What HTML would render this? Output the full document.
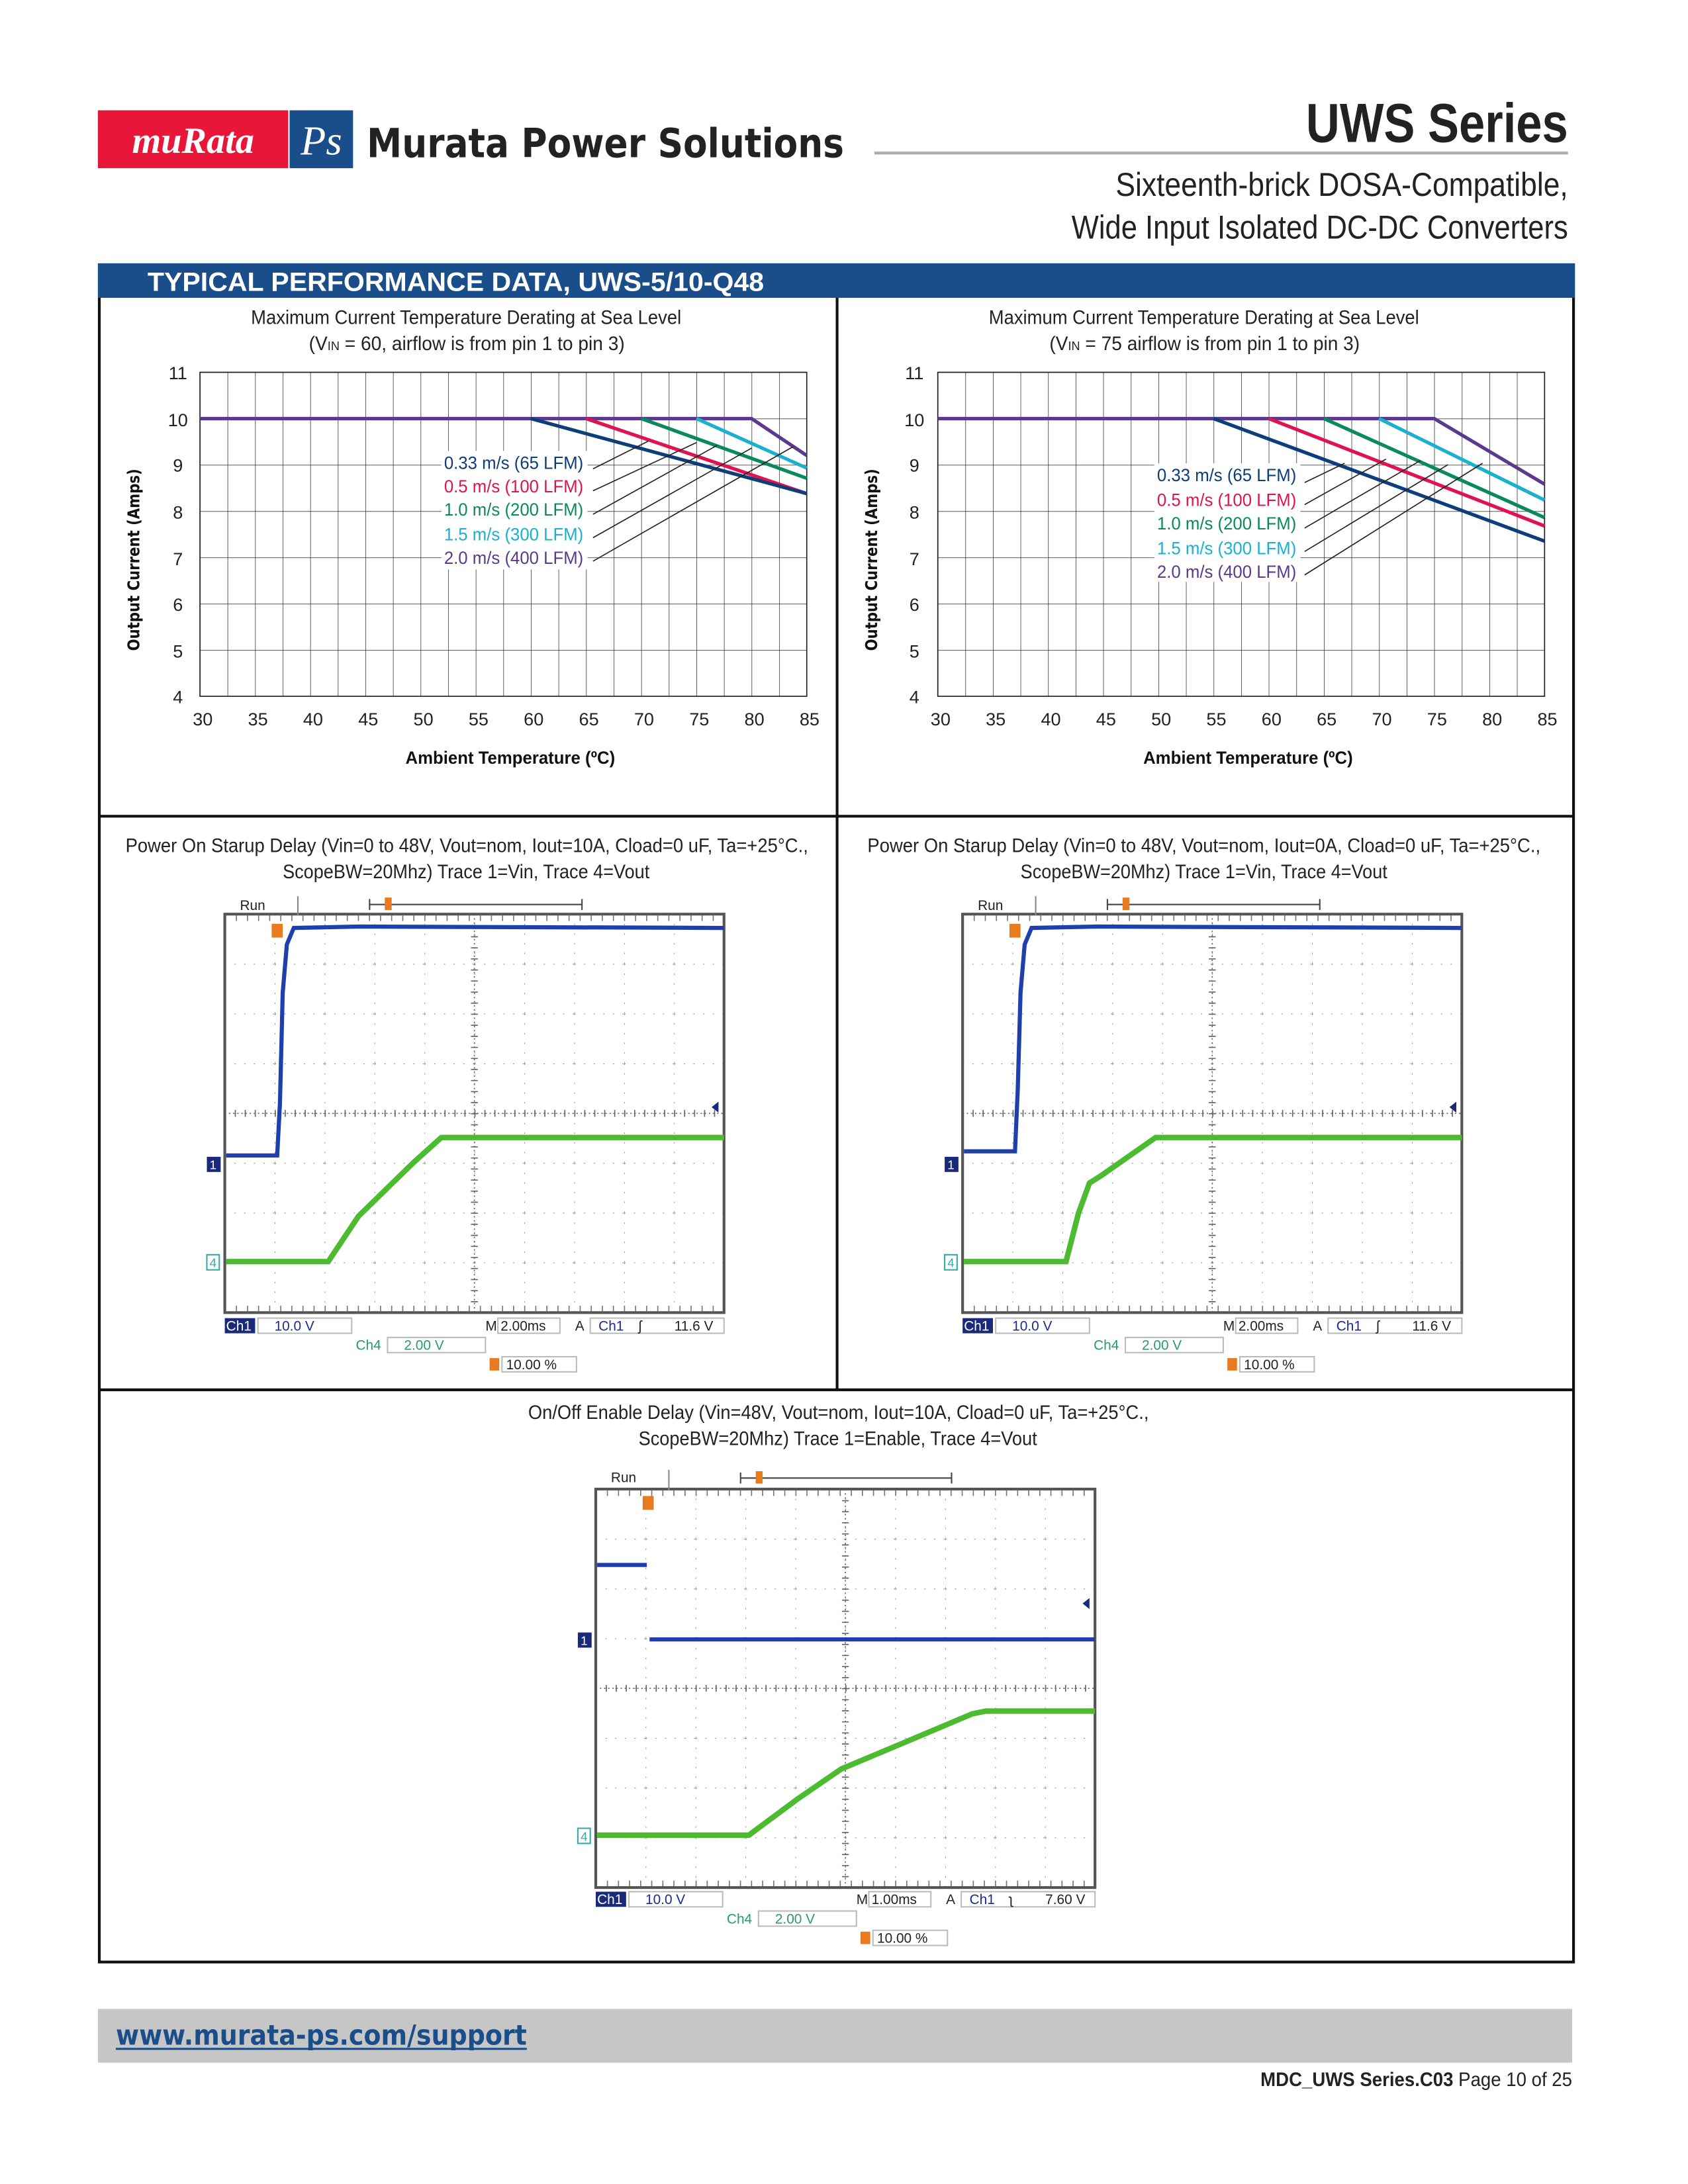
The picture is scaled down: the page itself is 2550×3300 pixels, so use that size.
<!DOCTYPE html>
<html><head><meta charset="utf-8"><style>
html,body{margin:0;padding:0;background:#fff;}
svg{display:block;}
text{font-family:"Liberation Sans Narrow","Liberation Sans",sans-serif;}
.m{font-family:"DejaVu Sans","Liberation Sans",sans-serif;}
</style></head><body>
<svg width="2550" height="3300" viewBox="0 0 1224 1584" xmlns="http://www.w3.org/2000/svg">
<defs>
<pattern id="grid" x="145" y="270" width="20" height="33.571" patternUnits="userSpaceOnUse">
<path d="M0 0V33.571M0 0H20" stroke="#222" stroke-width="0.7" fill="none"/>
</pattern>
<pattern id="grid2" x="680" y="270" width="20" height="33.571" patternUnits="userSpaceOnUse">
<path d="M0 0V33.571M0 0H20" stroke="#222" stroke-width="0.7" fill="none"/>
</pattern>
<pattern id="sdot" x="0" y="0" width="36.2" height="36.1" patternUnits="userSpaceOnUse">
<path d="M0 0V36.1M0 0H36.2" stroke="#777" stroke-width="0.8" stroke-dasharray="1,6" fill="none"/>
</pattern>
<g id="scope">
<rect x="0" y="0" width="362" height="289" fill="#fff"/>
<rect x="0" y="0" width="362" height="289" fill="url(#sdot)"/>
<line x1="181" y1="0" x2="181" y2="289" stroke="#666" stroke-width="0.8" stroke-dasharray="1,2"/>
<line x1="0" y1="144.5" x2="362" y2="144.5" stroke="#666" stroke-width="0.8" stroke-dasharray="1,2"/>
<path d="M0 144.5h362" stroke="#666" stroke-width="5" stroke-dasharray="0.8,6.44" fill="none"/>
<path d="M181 0v289" stroke="#666" stroke-width="5" stroke-dasharray="0.8,7.22" fill="none"/>
<path d="M0 3h362M0 286h362" stroke="#777" stroke-width="4" stroke-dasharray="0.8,7.24" fill="none"/>
<rect x="0" y="0" width="362" height="289" fill="none" stroke="#555" stroke-width="2"/>
</g>
</defs>

<!-- Header -->
<rect x="71" y="80" width="138" height="42" fill="#e8173a"/>
<text x="140" y="111" font-style="italic" font-weight="bold" font-size="27" fill="#fff" text-anchor="middle" style="font-family:'Liberation Serif',serif">muRata</text>
<rect x="210" y="80" width="46" height="42" fill="#1a4e8a"/>
<text x="233" y="112" font-size="30" font-style="italic" fill="#fff" text-anchor="middle" style="font-family:'Liberation Serif',serif">Ps</text>
<text x="266" y="114" font-size="29" font-weight="bold" fill="#222" style="font-family:'DejaVu Sans','Liberation Sans',sans-serif" textLength="346" lengthAdjust="spacingAndGlyphs">Murata Power Solutions</text>
<line x1="634" y1="111" x2="1137" y2="111" stroke="#aaa" stroke-width="2"/>
<text x="1137" y="103" font-size="40" font-weight="bold" fill="#222" text-anchor="end" textLength="190" lengthAdjust="spacingAndGlyphs">UWS Series</text>
<text x="1137" y="142" font-size="24" fill="#222" text-anchor="end" textLength="328" lengthAdjust="spacingAndGlyphs">Sixteenth-brick DOSA-Compatible,</text>
<text x="1137" y="173" font-size="24" fill="#222" text-anchor="end" textLength="360" lengthAdjust="spacingAndGlyphs">Wide Input Isolated DC-DC Converters</text>

<!-- Main box -->
<rect x="72" y="192" width="1069" height="1231" fill="none" stroke="#111" stroke-width="2"/>
<rect x="71" y="191" width="1071" height="25" fill="#1a4e8a"/>
<text x="107" y="211" font-size="19" font-weight="bold" fill="#fff" style="font-family:'Liberation Sans',sans-serif" textLength="447" lengthAdjust="spacingAndGlyphs">TYPICAL PERFORMANCE DATA, UWS-5/10-Q48</text>
<line x1="607" y1="216" x2="607" y2="1008" stroke="#111" stroke-width="2"/>
<line x1="72" y1="592" x2="1141" y2="592" stroke="#111" stroke-width="2"/>
<line x1="72" y1="1008" x2="1141" y2="1008" stroke="#111" stroke-width="2"/>

<!-- Chart 1 -->
<g font-size="14" fill="#222">
<text x="182" y="235" textLength="312" lengthAdjust="spacingAndGlyphs">Maximum Current Temperature Derating at Sea Level</text>
<text x="224" y="254" textLength="229" lengthAdjust="spacingAndGlyphs">(V<tspan font-size="9">IN</tspan> = 60, airflow is from pin 1 to pin 3)</text>
</g>
<rect x="145" y="270" width="440" height="235" fill="url(#grid)"/>
<rect x="145" y="270" width="440" height="235" fill="none" stroke="#222" stroke-width="0.8"/>
<g font-size="13" fill="#222" text-anchor="middle">
<text x="129" y="275">11</text><text x="129" y="309">10</text><text x="129" y="342">9</text><text x="129" y="376">8</text><text x="129" y="410">7</text><text x="129" y="443">6</text><text x="129" y="477">5</text><text x="129" y="510">4</text>
<text x="147" y="526">30</text><text x="187" y="526">35</text><text x="227" y="526">40</text><text x="267" y="526">45</text><text x="307" y="526">50</text><text x="347" y="526">55</text><text x="387" y="526">60</text><text x="427" y="526">65</text><text x="467" y="526">70</text><text x="507" y="526">75</text><text x="547" y="526">80</text><text x="587" y="526">85</text>
</g>
<text x="294" y="554" font-size="13" font-weight="bold" fill="#111" textLength="152" lengthAdjust="spacingAndGlyphs">Ambient Temperature (ºC)</text>
<text transform="translate(101,472) rotate(-90)" font-size="12" font-weight="bold" fill="#111" style="font-family:'DejaVu Sans',sans-serif" textLength="132" lengthAdjust="spacingAndGlyphs">Output Current (Amps)</text>
<g stroke-width="2.5" fill="none">
<polyline points="145,303.6 545,303.6 585,330.4" stroke="#5b3a8e"/>
<polyline points="505,303.6 585,339.5" stroke="#1ab0d0"/>
<polyline points="465,303.6 585,346.9" stroke="#0a8a5a"/>
<polyline points="425,303.6 585,358" stroke="#e0134f"/>
<polyline points="385,303.6 585,358" stroke="#0d3d7a"/>
</g>
<g stroke="#222" stroke-width="0.8">
<line x1="430" y1="340" x2="470" y2="320"/>
<line x1="430" y1="356" x2="505" y2="321"/>
<line x1="430" y1="373" x2="520" y2="323"/>
<line x1="430" y1="390" x2="545" y2="325"/>
<line x1="430" y1="407" x2="575" y2="324"/>
</g>
<rect x="320" y="327" width="106" height="86" fill="#fff"/>
<g font-size="13">
<text x="322" y="340" fill="#0d3d7a" textLength="101" lengthAdjust="spacingAndGlyphs">0.33 m/s (65 LFM)</text>
<text x="322" y="357" fill="#e0134f" textLength="101" lengthAdjust="spacingAndGlyphs">0.5 m/s (100 LFM)</text>
<text x="322" y="374" fill="#0a8a5a" textLength="101" lengthAdjust="spacingAndGlyphs">1.0 m/s (200 LFM)</text>
<text x="322" y="392" fill="#1ab0d0" textLength="101" lengthAdjust="spacingAndGlyphs">1.5 m/s (300 LFM)</text>
<text x="322" y="409" fill="#5b3a8e" textLength="101" lengthAdjust="spacingAndGlyphs">2.0 m/s (400 LFM)</text>
</g>

<!-- Chart 2 -->
<g font-size="14" fill="#222">
<text x="717" y="235" textLength="312" lengthAdjust="spacingAndGlyphs">Maximum Current Temperature Derating at Sea Level</text>
<text x="761" y="254" textLength="225" lengthAdjust="spacingAndGlyphs">(V<tspan font-size="9">IN</tspan> = 75 airflow is from pin 1 to pin 3)</text>
</g>
<rect x="680" y="270" width="440" height="235" fill="url(#grid2)"/>
<rect x="680" y="270" width="440" height="235" fill="none" stroke="#222" stroke-width="0.8"/>
<g font-size="13" fill="#222" text-anchor="middle">
<text x="663" y="275">11</text><text x="663" y="309">10</text><text x="663" y="342">9</text><text x="663" y="376">8</text><text x="663" y="410">7</text><text x="663" y="443">6</text><text x="663" y="477">5</text><text x="663" y="510">4</text>
<text x="682" y="526">30</text><text x="722" y="526">35</text><text x="762" y="526">40</text><text x="802" y="526">45</text><text x="842" y="526">50</text><text x="882" y="526">55</text><text x="922" y="526">60</text><text x="962" y="526">65</text><text x="1002" y="526">70</text><text x="1042" y="526">75</text><text x="1082" y="526">80</text><text x="1122" y="526">85</text>
</g>
<text x="829" y="554" font-size="13" font-weight="bold" fill="#111" textLength="152" lengthAdjust="spacingAndGlyphs">Ambient Temperature (ºC)</text>
<text transform="translate(636,472) rotate(-90)" font-size="12" font-weight="bold" fill="#111" style="font-family:'DejaVu Sans',sans-serif" textLength="132" lengthAdjust="spacingAndGlyphs">Output Current (Amps)</text>
<g stroke-width="2.5" fill="none">
<polyline points="680,303.6 1040,303.6 1120,351.2" stroke="#5b3a8e"/>
<polyline points="1000,303.6 1120,362.7" stroke="#1ab0d0"/>
<polyline points="960,303.6 1120,375.4" stroke="#0a8a5a"/>
<polyline points="920,303.6 1120,381.5" stroke="#e0134f"/>
<polyline points="880,303.6 1120,392.5" stroke="#0d3d7a"/>
</g>
<g stroke="#222" stroke-width="0.8">
<line x1="946" y1="350" x2="975" y2="336"/>
<line x1="946" y1="366" x2="1005" y2="333"/>
<line x1="946" y1="383" x2="1030" y2="334"/>
<line x1="946" y1="400" x2="1050" y2="337"/>
<line x1="946" y1="417" x2="1075" y2="336"/>
</g>
<rect x="837" y="336" width="106" height="86" fill="#fff"/>
<g font-size="13">
<text x="839" y="349" fill="#0d3d7a" textLength="101" lengthAdjust="spacingAndGlyphs">0.33 m/s (65 LFM)</text>
<text x="839" y="367" fill="#e0134f" textLength="101" lengthAdjust="spacingAndGlyphs">0.5 m/s (100 LFM)</text>
<text x="839" y="384" fill="#0a8a5a" textLength="101" lengthAdjust="spacingAndGlyphs">1.0 m/s (200 LFM)</text>
<text x="839" y="402" fill="#1ab0d0" textLength="101" lengthAdjust="spacingAndGlyphs">1.5 m/s (300 LFM)</text>
<text x="839" y="419" fill="#5b3a8e" textLength="101" lengthAdjust="spacingAndGlyphs">2.0 m/s (400 LFM)</text>
</g>

<!-- Scope titles -->
<g font-size="14" fill="#222">
<text x="91" y="618" textLength="495" lengthAdjust="spacingAndGlyphs">Power On Starup Delay (Vin=0 to 48V, Vout=nom, Iout=10A, Cload=0 uF, Ta=+25°C.,</text>
<text x="205" y="637" textLength="266" lengthAdjust="spacingAndGlyphs">ScopeBW=20Mhz) Trace 1=Vin, Trace 4=Vout</text>
<text x="629" y="618" textLength="488" lengthAdjust="spacingAndGlyphs">Power On Starup Delay (Vin=0 to 48V, Vout=nom, Iout=0A, Cload=0 uF, Ta=+25°C.,</text>
<text x="740" y="637" textLength="266" lengthAdjust="spacingAndGlyphs">ScopeBW=20Mhz) Trace 1=Vin, Trace 4=Vout</text>
<text x="383" y="1029" textLength="450" lengthAdjust="spacingAndGlyphs">On/Off Enable Delay (Vin=48V, Vout=nom, Iout=10A, Cload=0 uF, Ta=+25°C.,</text>
<text x="463" y="1048" textLength="289" lengthAdjust="spacingAndGlyphs">ScopeBW=20Mhz) Trace 1=Enable, Trace 4=Vout</text>
</g>

<!-- Scope 1 -->
<use href="#scope" x="163" y="663"/>
<g class="m" font-size="10" fill="#222">
<text x="174" y="660">Run</text>
<line x1="216" y1="650" x2="216" y2="664" stroke="#888"/>
<path d="M268 652v8M268 656H422M422 652v8" stroke="#444" fill="none"/>
<rect x="279" y="651" width="5" height="9" fill="#e87a20"/>
<rect x="197" y="670" width="8" height="10" fill="#e87a20"/>
<polyline points="164,838 201,838 203,800 205,720 208,685 213,673 260,672 525,673" fill="none" stroke="#1f3fae" stroke-width="3"/>
<polyline points="164,915 238,915 260,882 300,843 320,825 525,825" fill="none" stroke="#4cbb30" stroke-width="4"/>
<rect x="150" y="839" width="10" height="11" fill="#1a2a7a"/><text x="152" y="848" fill="#fff" font-size="9">1</text>
<rect x="150" y="910" width="9" height="11" fill="#fff" stroke="#3aa"/><text x="152" y="919" fill="#3aa" font-size="9">4</text>
<path d="M516 803l5-4v8z" fill="#1a2a7a"/>
<rect x="163" y="956" width="22" height="11" fill="#1a2a7a"/><text x="164" y="965" fill="#fff">Ch1</text>
<rect x="187" y="956" width="68" height="11" fill="none" stroke="#bbb"/><text x="199" y="965" fill="#1a2a9a">10.0 V</text>
<text x="352" y="965">M</text><rect x="361" y="956" width="45" height="11" fill="none" stroke="#bbb"/><text x="363" y="965">2.00ms</text>
<text x="417" y="965">A</text><rect x="428" y="956" width="97" height="11" fill="none" stroke="#bbb"/><text x="434" y="965" fill="#1a2a9a">Ch1</text><text x="463" y="965">ʃ</text><text x="489" y="965">11.6 V</text>
<text x="258" y="979" fill="#2a9a6a">Ch4</text><rect x="281" y="970" width="71" height="11" fill="none" stroke="#bbb"/><text x="293" y="979" fill="#2a9a6a">2.00 V</text>
<rect x="355" y="985" width="7" height="9" fill="#e87a20"/><rect x="364" y="984" width="54" height="11" fill="none" stroke="#bbb"/><text x="367" y="993">10.00 %</text>
</g>

<!-- Scope 2 -->
<use href="#scope" x="698" y="663"/>
<g class="m" font-size="10" fill="#222">
<text x="709" y="660">Run</text>
<line x1="751" y1="650" x2="751" y2="664" stroke="#888"/>
<path d="M803 652v8M803 656H957M957 652v8" stroke="#444" fill="none"/>
<rect x="814" y="651" width="5" height="9" fill="#e87a20"/>
<rect x="732" y="670" width="8" height="10" fill="#e87a20"/>
<polyline points="699,835 736,835 738,790 740,720 743,685 748,673 795,672 1060,673" fill="none" stroke="#1f3fae" stroke-width="3"/>
<polyline points="699,915 773,915 782,880 790,858 798,853 838,825 1060,825" fill="none" stroke="#4cbb30" stroke-width="4"/>
<rect x="685" y="839" width="10" height="11" fill="#1a2a7a"/><text x="687" y="848" fill="#fff" font-size="9">1</text>
<rect x="685" y="910" width="9" height="11" fill="#fff" stroke="#3aa"/><text x="687" y="919" fill="#3aa" font-size="9">4</text>
<path d="M1051 803l5-4v8z" fill="#1a2a7a"/>
<rect x="698" y="956" width="22" height="11" fill="#1a2a7a"/><text x="699" y="965" fill="#fff">Ch1</text>
<rect x="722" y="956" width="68" height="11" fill="none" stroke="#bbb"/><text x="734" y="965" fill="#1a2a9a">10.0 V</text>
<text x="887" y="965">M</text><rect x="896" y="956" width="45" height="11" fill="none" stroke="#bbb"/><text x="898" y="965">2.00ms</text>
<text x="952" y="965">A</text><rect x="963" y="956" width="97" height="11" fill="none" stroke="#bbb"/><text x="969" y="965" fill="#1a2a9a">Ch1</text><text x="998" y="965">ʃ</text><text x="1024" y="965">11.6 V</text>
<text x="793" y="979" fill="#2a9a6a">Ch4</text><rect x="816" y="970" width="71" height="11" fill="none" stroke="#bbb"/><text x="828" y="979" fill="#2a9a6a">2.00 V</text>
<rect x="890" y="985" width="7" height="9" fill="#e87a20"/><rect x="899" y="984" width="54" height="11" fill="none" stroke="#bbb"/><text x="902" y="993">10.00 %</text>
</g>

<!-- Scope 3 -->
<use href="#scope" x="432" y="1080"/>
<g class="m" font-size="10" fill="#222">
<text x="443" y="1075">Run</text>
<line x1="485" y1="1066" x2="485" y2="1081" stroke="#888"/>
<path d="M537 1068v8M537 1072H690M690 1068v8" stroke="#444" fill="none"/>
<rect x="548" y="1067" width="5" height="9" fill="#e87a20"/>
<rect x="466" y="1085" width="8" height="10" fill="#e87a20"/>
<polyline points="433,1135 469,1135" fill="none" stroke="#1f3fae" stroke-width="3"/>
<polyline points="471,1189 794,1189" fill="none" stroke="#1f3fae" stroke-width="3"/>
<polyline points="433,1331 543,1331 578,1305 610,1283 660,1262 705,1243 715,1241 794,1241" fill="none" stroke="#4cbb30" stroke-width="4"/>
<rect x="419" y="1184" width="10" height="11" fill="#1a2a7a"/><text x="421" y="1193" fill="#fff" font-size="9">1</text>
<rect x="419" y="1326" width="9" height="11" fill="#fff" stroke="#3aa"/><text x="421" y="1335" fill="#3aa" font-size="9">4</text>
<path d="M785 1163l5-4v8z" fill="#1a2a7a"/>
<rect x="432" y="1372" width="22" height="11" fill="#1a2a7a"/><text x="433" y="1381" fill="#fff">Ch1</text>
<rect x="456" y="1372" width="68" height="11" fill="none" stroke="#bbb"/><text x="468" y="1381" fill="#1a2a9a">10.0 V</text>
<text x="621" y="1381">M</text><rect x="630" y="1372" width="45" height="11" fill="none" stroke="#bbb"/><text x="632" y="1381">1.00ms</text>
<text x="686" y="1381">A</text><rect x="697" y="1372" width="97" height="11" fill="none" stroke="#bbb"/><text x="703" y="1381" fill="#1a2a9a">Ch1</text><text x="732" y="1381">ʅ</text><text x="758" y="1381">7.60 V</text>
<text x="527" y="1395" fill="#2a9a6a">Ch4</text><rect x="550" y="1386" width="71" height="11" fill="none" stroke="#bbb"/><text x="562" y="1395" fill="#2a9a6a">2.00 V</text>
<rect x="624" y="1401" width="7" height="9" fill="#e87a20"/><rect x="633" y="1400" width="54" height="11" fill="none" stroke="#bbb"/><text x="636" y="1409">10.00 %</text>
</g>

<!-- Footer -->
<rect x="71" y="1457" width="1069" height="39" fill="#c6c6c6"/>
<text x="84" y="1483" font-size="20" font-weight="bold" fill="#1a4e8a" style="font-family:'DejaVu Sans','Liberation Sans',sans-serif" textLength="298" lengthAdjust="spacingAndGlyphs">www.murata-ps.com/support</text>
<line x1="84" y1="1486" x2="382" y2="1486" stroke="#1a4e8a" stroke-width="1.5"/>
<text x="914" y="1513" font-size="14" fill="#222" textLength="226" lengthAdjust="spacingAndGlyphs"><tspan font-weight="bold">MDC_UWS Series.C03</tspan>  Page 10 of 25</text>
</svg>
</body></html>
